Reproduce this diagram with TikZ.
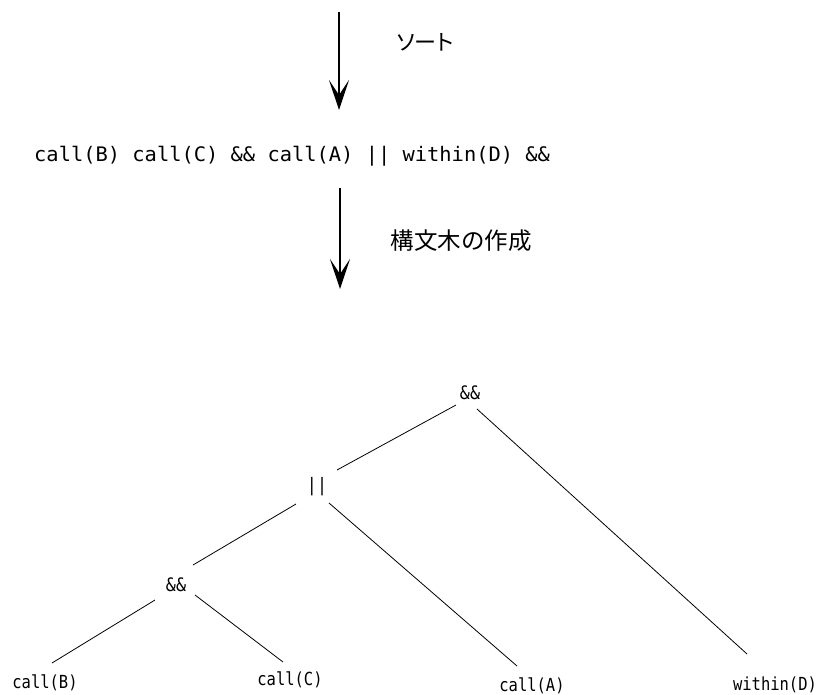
\documentclass[tikz,border=0pt]{standalone}
\usepackage{fontspec}
\usetikzlibrary{arrows.meta,calc}
\newfontfamily\seqfont[FakeStretch=1.02]{DejaVu Sans Mono}
\newfontfamily\leaffont[FakeStretch=0.86]{DejaVu Sans Mono}
\newfontfamily\opfont[FakeStretch=0.9]{DejaVu Sans Mono}
\newfontfamily\jpfont{Noto Sans CJK JP}
\newfontfamily\jpkana[RawFeature=+palt]{Noto Sans CJK JP}
\begin{document}
\begin{tikzpicture}[x=1pt,y=-1pt,
  edge/.style={line width=0.8pt},
  flow/.style={line width=2pt,-{Stealth[length=30pt,width=20pt,inset=15pt]}},
  leaf/.style={inner sep=0pt,font=\leaffont\fontsize{18}{20}\selectfont},
  op/.style={inner sep=0pt,font=\opfont\fontsize{18.5}{20}\selectfont},
  seqtext/.style={inner sep=0pt,anchor=west,font=\seqfont\fontsize{20}{22}\selectfont},
  steplabel/.style={inner sep=0pt,font=\jpfont\fontsize{23.5}{26}\selectfont},
  sortlabel/.style={inner sep=0pt,font=\jpkana\fontsize{22}{24}\selectfont}]
\useasboundingbox (0,0) rectangle (821,695);
% flow arrows
\coordinate (a1s) at (339,12);
\coordinate (a1e) at (339,110);
\coordinate (a2s) at (340,188);
\coordinate (a2e) at (340,289);
\draw[flow] (a1s) -- (a1e);
\draw[flow] (a2s) -- (a2e);
\node[sortlabel] (sortlbl) at (425,42) {ソート};
\node[seqtext] (seq) at (34,156) {call(B) call(C) \&\& call(A) || within(D) \&\&};
\node[steplabel] (buildlbl) at (461,241) {構文木の作成};
% tree
\node[op] (n1) at (470,393) {\&\&};
\node[op] (n2) at (317,487) {||};
\node[op] (n3) at (176,585) {\&\&};
\node[leaf] (lB) at (45,683) {call(B)};
\node[leaf] (lC) at (290,680) {call(C)};
\node[leaf] (lA) at (532,686) {call(A)};
\node[leaf] (lD) at (775,685) {within(D)};
\draw[edge] ($(n1)+(-14,12)$) -- ($(n2)+(20,-17)$);
\draw[edge] ($(n1)+(7,16)$) -- ($(lD)+(-28,-31)$);
\draw[edge] ($(n2)+(-21,17)$) -- ($(n3)+(17,-20)$);
\draw[edge] ($(n2)+(12,16)$) -- ($(lA)+(-15,-20)$);
\draw[edge] ($(n3)+(-21,15)$) -- ($(lB)+(7,-20)$);
\draw[edge] ($(n3)+(19,10)$) -- ($(lC)+(-7,-18)$);
\end{tikzpicture}
\end{document}
